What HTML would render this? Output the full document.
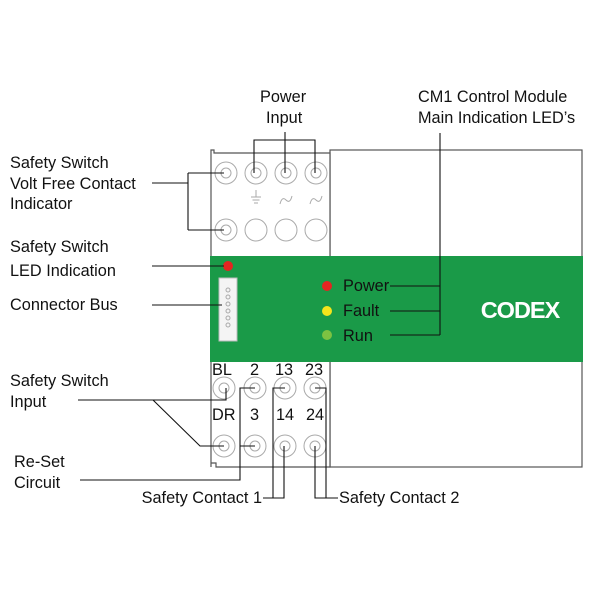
<!DOCTYPE html>
<html><head><meta charset="utf-8"><style>
html,body{margin:0;padding:0;background:#fff;}
svg{display:block;}
text{font-family:"Liberation Sans",Arial,sans-serif;font-size:16.3px;fill:#111;}
</style></head><body>
<svg width="600" height="600" viewBox="0 0 600 600" xmlns="http://www.w3.org/2000/svg">
<rect x="330" y="150" width="252" height="317" fill="#fff" stroke="#555" stroke-width="1.2"/>
<path d="M211 467 V150 H214 V153 H330 V467 H216 V463 H211" fill="#fff" stroke="#555" stroke-width="1.2"/>
<rect x="210" y="256" width="373" height="106" fill="#1a9a48"/>
<g fill="none" stroke="#aaa" stroke-width="1">
<circle cx="226" cy="173" r="11"/><circle cx="226" cy="173" r="5"/>
<circle cx="256" cy="173" r="11"/><circle cx="256" cy="173" r="5"/>
<circle cx="286" cy="173" r="11"/><circle cx="286" cy="173" r="5"/>
<circle cx="316" cy="173" r="11"/><circle cx="316" cy="173" r="5"/>
<circle cx="226" cy="230" r="11"/><circle cx="226" cy="230" r="5"/>
<circle cx="256" cy="230" r="11"/>
<circle cx="286" cy="230" r="11"/>
<circle cx="316" cy="230" r="11"/>
<path d="M256 190 v7 M251 197 h10 M252.5 200 h7 M254 203 h4"/>
<path d="M280 204 q2 -8 6 -4 t6 -4"/>
<path d="M310 204 q2 -8 6 -4 t6 -4"/>
</g>
<g fill="none" stroke="#aaa" stroke-width="1">
<circle cx="224" cy="388" r="11"/><circle cx="224" cy="388" r="5"/>
<circle cx="255" cy="388" r="11"/><circle cx="255" cy="388" r="5"/>
<circle cx="285" cy="388" r="11"/><circle cx="285" cy="388" r="5"/>
<circle cx="315" cy="388" r="11"/><circle cx="315" cy="388" r="5"/>
<circle cx="224" cy="446" r="11"/><circle cx="224" cy="446" r="5"/>
<circle cx="255" cy="446" r="11"/><circle cx="255" cy="446" r="5"/>
<circle cx="285" cy="446" r="11"/><circle cx="285" cy="446" r="5"/>
<circle cx="315" cy="446" r="11"/><circle cx="315" cy="446" r="5"/>
</g>
<text x="212" y="375">BL</text><text x="250" y="375">2</text><text x="275" y="375">13</text><text x="305" y="375">23</text>
<text x="212" y="420">DR</text><text x="250" y="420">3</text><text x="276" y="420">14</text><text x="306" y="420">24</text>
<circle cx="228" cy="266" r="5" fill="#e52421"/>
<rect x="219" y="278" width="18" height="63" fill="#f4f4f4" stroke="#bbb"/>
<g fill="none" stroke="#aaa"><circle cx="228" cy="290" r="2"/><circle cx="228" cy="297" r="2"/><circle cx="228" cy="304" r="2"/><circle cx="228" cy="311" r="2"/><circle cx="228" cy="318" r="2"/><circle cx="228" cy="325" r="2"/></g>
<circle cx="327" cy="286" r="5" fill="#e52421"/>
<circle cx="327" cy="311" r="5" fill="#f4e41c"/>
<circle cx="327" cy="335" r="5" fill="#7cc242"/>
<text x="343" y="291">Power</text><text x="343" y="316">Fault</text><text x="343" y="341">Run</text>
<text x="520" y="318" text-anchor="middle" style="font-size:23.5px;font-weight:bold;fill:#fff;letter-spacing:-1px">CODEX</text>
<g fill="none" stroke="#111" stroke-width="1.1">
<path d="M285 132 V140 M254 173 V140 H315 V173 M285 140 V173"/>
<path d="M440 133 V335 M390 286 H440 M390 311 H440 M390 335 H440"/>
<path d="M152 183 H188 M188 173 V230 M188 173 H224 M188 230 H224"/>
<path d="M152 266 H224 M152 305 H222"/>
<path d="M78 400 H226 V388 M153 400 L200 446 H224"/>
<path d="M80 480 H240 V388 H255 M240 446 H255"/>
<path d="M263 498 H284 V446 M285 388 H273 V498"/>
<path d="M315 388 H326 V498 M315 446 V498 H338"/>
</g>
<text x="260" y="102">Power</text><text x="266" y="123">Input</text>
<text x="418" y="102">CM1 Control Module</text><text x="418" y="123">Main Indication LED’s</text>
<text x="10" y="168">Safety Switch</text><text x="10" y="189">Volt Free Contact</text><text x="10" y="209">Indicator</text>
<text x="10" y="252">Safety Switch</text><text x="10" y="276">LED Indication</text>
<text x="10" y="310">Connector Bus</text>
<text x="10" y="386">Safety Switch</text><text x="10" y="407">Input</text>
<text x="14" y="467">Re-Set</text><text x="14" y="488">Circuit</text>
<text x="262" y="503" text-anchor="end">Safety Contact 1</text>
<text x="339" y="503">Safety Contact 2</text>
</svg>
</body></html>
